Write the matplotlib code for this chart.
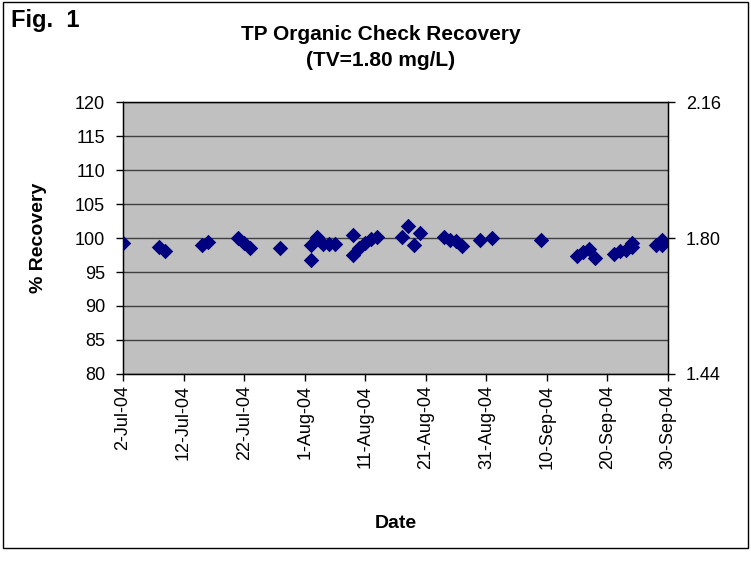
import pandas as pd
import matplotlib.pyplot as plt
import matplotlib.dates as mdates
from matplotlib.patches import Rectangle

plt.rcParams['font.family'] = ['Liberation Sans', 'DejaVu Sans']

# Data (sample date, % recovery)
dates = ['2004-07-02', '2004-07-08', '2004-07-09', '2004-07-15', '2004-07-16',
         '2004-07-21', '2004-07-22', '2004-07-23', '2004-07-28',
         '2004-08-02', '2004-08-02', '2004-08-03', '2004-08-04', '2004-08-05',
         '2004-08-06', '2004-08-09', '2004-08-09', '2004-08-10', '2004-08-11',
         '2004-08-12', '2004-08-13', '2004-08-17', '2004-08-18', '2004-08-19',
         '2004-08-20', '2004-08-24', '2004-08-25', '2004-08-26', '2004-08-27',
         '2004-08-30', '2004-09-01', '2004-09-09', '2004-09-15', '2004-09-16',
         '2004-09-17', '2004-09-18', '2004-09-21', '2004-09-22', '2004-09-23',
         '2004-09-24', '2004-09-24', '2004-09-28', '2004-09-29', '2004-09-29']
recovery = [99.3, 98.7, 98.1, 99.0, 99.4,
            100.0, 99.2, 98.6, 98.5,
            96.7, 99.0, 100.1, 99.1, 99.1,
            99.1, 100.5, 97.5, 98.5, 99.2,
            99.8, 100.1, 100.2, 101.7, 99.0,
            100.7, 100.2, 99.7, 99.5, 98.8,
            99.7, 100.0, 99.7, 97.3, 97.9,
            98.4, 97.0, 97.7, 98.1, 98.2,
            98.7, 99.3, 99.0, 99.7, 98.9]

tick_dates = ['2004-07-02', '2004-07-12', '2004-07-22', '2004-08-01', '2004-08-11',
              '2004-08-21', '2004-08-31', '2004-09-10', '2004-09-20', '2004-09-30']
right_ticks = [1.44, 1.80, 2.16]

x = pd.to_datetime(dates)

fig = plt.figure(figsize=(7.51, 5.64), dpi=100)
ax = fig.add_axes([0.1638, 0.3369, 0.7257, 0.4822])

# outer chart border
fig.patches.append(Rectangle((0.004, 0.028), 0.992, 0.968, transform=fig.transFigure,
                             fill=False, edgecolor='black', linewidth=1.0))

ax.set_facecolor('#C0C0C0')
ax.scatter(x, recovery, marker='D', s=62, color='#000080', zorder=3, linewidths=0)

ax.set_ylim(80, 120)
ax.set_yticks(range(80, 121, 5))
ax.set_xlim(pd.Timestamp(tick_dates[0]), pd.Timestamp(tick_dates[-1]))
ax.set_xticks(pd.to_datetime(tick_dates))
ax.xaxis.set_major_formatter(mdates.DateFormatter('%-d-%b-%y'))
ax.grid(axis='y', color='#404040', linewidth=1.0)
ax.set_axisbelow(True)

for sp in ax.spines.values():
    sp.set_color('black')
    sp.set_linewidth(1.0)

ax.tick_params(axis='both', direction='out', length=5, width=1, labelsize=13, colors='black')
ax.tick_params(axis='y', pad=8)
ax.tick_params(axis='x', rotation=90, pad=3)
ax.set_ylabel('% Recovery', fontsize=14, fontweight='bold', labelpad=20)
ax.set_xlabel('Date', fontsize=14, fontweight='bold', labelpad=33)

ax2 = ax.twinx()
ax2.set_ylim(1.44, 2.16)
ax2.set_yticks(right_ticks)
ax2.set_yticklabels(['%.2f' % v for v in right_ticks])
ax2.tick_params(axis='y', direction='out', length=5, width=1, labelsize=13, pad=8)

fig.text(0.015, 0.963, 'Fig.  1', fontsize=17, fontweight='bold', ha='left', va='center')
fig.text(0.507, 0.939, 'TP Organic Check Recovery', fontsize=15, fontweight='bold',
         ha='center', va='center')
fig.text(0.507, 0.893, '(TV=1.80 mg/L)', fontsize=15, fontweight='bold',
         ha='center', va='center')

fig.savefig('out.png', dpi=100)
